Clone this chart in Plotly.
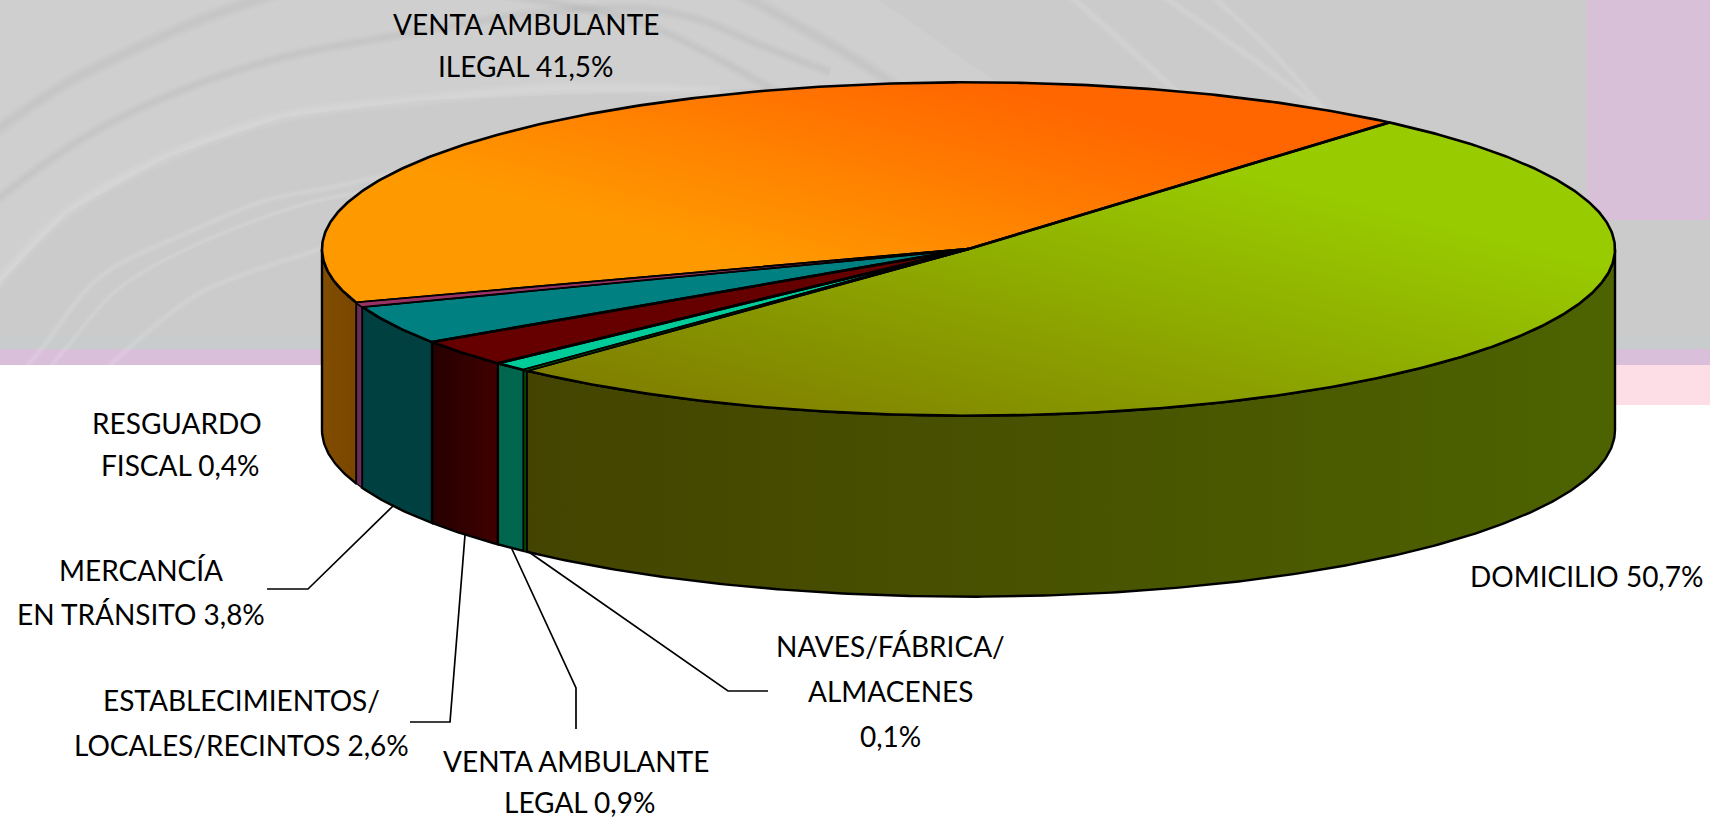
import numpy as np
import plotly.graph_objects as go

# ---- data -------------------------------------------------------------
slice_names = ["DOMICILIO", "NAVES/FÁBRICA/ALMACENES", "VENTA AMBULANTE LEGAL",
               "ESTABLECIMIENTOS/LOCALES/RECINTOS", "MERCANCÍA EN TRÁNSITO",
               "RESGUARDO FISCAL", "VENTA AMBULANTE ILEGAL"]
slice_values = [50.7, 0.1, 0.9, 2.6, 3.8, 0.4, 41.5]
top_colors = ["#99cc00", "#009000", "#00cc99", "#660000", "#008080", "#993366", "#ff9900"]
side_colors = [["#444400", "#4d6300"], ["#004d00", "#004d00"], ["#00664d", "#00664d"],
               ["#260000", "#400000"], ["#004040", "#004040"], ["#6b2a58", "#6b2a58"],
               ["#804d00", "#7a4600"]]
label_lines = [
    ("VENTA AMBULANTE", 526, 24), ("ILEGAL 41,5%", 525, 66),
    ("RESGUARDO", 177, 423), ("FISCAL 0,4%", 180, 465),
    ("MERCANCÍA", 141, 570), ("EN TRÁNSITO 3,8%", 141, 614),
    ("ESTABLECIMIENTOS/", 241, 700), ("LOCALES/RECINTOS 2,6%", 241, 745),
    ("VENTA AMBULANTE", 576, 761), ("LEGAL 0,9%", 579, 802),
    ("NAVES/FÁBRICA/", 890, 646), ("ALMACENES", 890, 691), ("0,1%", 890, 736),
    ("DOMICILIO 50,7%", 1586, 576),
]
leaders = [
    [(394, 505), (308, 589), (267, 589)],
    [(465, 535), (450, 722), (410, 722)],
    [(511, 547), (576, 688), (576, 729)],
    [(526, 550), (728, 691), (768, 691)],
]

# ---- pie geometry -------------------------------------------------------
CX, CY, A, B, DEPTH = 968.5, 249.0, 646.5, 166.7, 181.0
START_DEG = 49.4
TINY = 0.5

def ell(t_deg, dy=0.0):
    t = np.radians(t_deg)
    return np.column_stack([CX + A * np.cos(t), CY - B * np.sin(t) + dy])

def arc(t0, t1, dy=0.0):
    n = max(2, int(abs(t1 - t0) * 2) + 2)
    return ell(np.linspace(t0, t1, n), dy)

def clip_half(poly, wx, wy, s0):
    """Keep the part of poly where wx*X + wy*Y >= s0 (pie-plane coordinates)."""
    s = wx * (poly[:, 0] - CX) / A + wy * (CY - poly[:, 1]) / B - s0
    out = []
    for i in range(len(poly)):
        j = (i + 1) % len(poly)
        if s[i] >= 0:
            out.append(poly[i])
        if (s[i] >= 0) != (s[j] >= 0):
            out.append(poly[i] + (poly[j] - poly[i]) * s[i] / (s[i] - s[j]))
    return np.array(out) if out else None

def lerp_colors(c0, c1, n):
    return [tuple(int(round(a + (b - a) * k / (n - 1))) for a, b in zip(c0, c1)) for k in range(n)]

fig = go.Figure()

def add_poly(xy, fill=None, line_w=0.0, name=None, grad=None, lcolor="#000000"):
    kw = {}
    if grad is not None:
        kw["fillgradient"] = dict(type="horizontal", colorscale=[[0, grad[0]], [1, grad[1]]])
    elif fill is not None:
        kw["fillcolor"] = fill
    fig.add_trace(go.Scatter(x=xy[:, 0], y=xy[:, 1], mode="lines", fill="toself",
                             line=dict(color=lcolor, width=line_w), hoverinfo="skip",
                             name=name, showlegend=False, **kw))

def add_line(xy, w, color="#000000", spline=False):
    fig.add_trace(go.Scatter(x=xy[:, 0], y=xy[:, 1], mode="lines",
                             line=dict(color=color, width=w, shape="spline" if spline else "linear"),
                             hoverinfo="skip", showlegend=False))

# ---- background texture (decorative swirl) ------------------------------
W, H = 1710, 821
light_region = np.array([(0, 0), (879, 0), (996, 82), (700, 90), (420, 100), (283, 117),
                         (167, 157), (67, 213), (0, 283), (0, 0)], dtype=float)
add_poly(light_region, fill="rgba(255,255,255,0.09)")
DARK, LIGHT = "0,0,0", "255,255,255"
swirl = [
    (DARK, 10, [(-10, 135), (67, 83), (133, 50), (200, 20), (280, -8)]),
    (DARK, 8, [(-10, 205), (80, 140), (170, 95), (280, 58), (400, 35), (530, 14), (640, 8),
               (700, 20), (760, 45), (830, 72)]),
    (DARK, 8, [(500, -6), (600, 12), (653, 27), (733, 67), (790, 100)]),
    (DARK, 10, [(740, -6), (800, 27), (840, 50), (883, 77), (900, 90)]),
    (LIGHT, 9, [(-8, 290), (67, 213), (167, 157), (283, 117), (420, 100), (560, 88), (720, 92)]),
    (LIGHT, 5, [(28, 365), (43, 347), (100, 277), (187, 233), (267, 200), (333, 187), (430, 165)]),
    (LIGHT, 4, [(52, 365), (67, 347), (117, 290), (200, 243), (320, 200), (390, 190)]),
    (LIGHT, 5, [(110, 365), (130, 347), (200, 293), (317, 250), (345, 240)]),
    (LIGHT, 6, [(1068, -6), (1120, 40), (1167, 83), (1185, 100)]),
    (LIGHT, 6, [(1160, -6), (1240, 50), (1312, 103), (1340, 125)]),
    (LIGHT, 5, [(1210, -6), (1270, 50), (1325, 110), (1348, 132)]),
]
for rgb, w, pts in swirl:
    xy = np.array(pts, dtype=float)
    xy = xy[xy[:, 1] < 366]
    alpha = 0.012 if rgb == DARK else 0.055
    for factor in (1.5, 1.0, 0.5):
        add_line(xy, w * factor, "rgba(%s,%.3f)" % (rgb, alpha), spline=True)

# ---- sides, painted along the visible front arc; narrow slices go last ---
edges = START_DEG - np.concatenate([[0], np.cumsum(slice_values)]) * 3.6
order = sorted(range(len(slice_values)), key=lambda k: slice_values[k] < TINY)
for i in order:
    t0, t1 = edges[i], edges[i + 1]
    lo, hi = max(t1, -180.0), min(t0, 0.0)
    if hi <= lo:
        continue
    xy = np.vstack([arc(lo, hi), arc(hi, lo, DEPTH)])
    xy = np.vstack([xy, xy[:1]])
    c = side_colors[i]
    add_poly(xy, line_w=1.2 if slice_values[i] < TINY else 2.4, name=slice_names[i],
             grad=c if c[0] != c[1] else None, fill=c[0])

# ---- top face -----------------------------------------------------------
center = np.array([[CX, CY]])
grad_spec = {0: ((128, 128, 0), (153, 204, 0), -1.41, 0.9, 76),
             6: ((255, 153, 0), (255, 102, 0), -0.4, 1.0, 51)}
polys = []
for i, val in enumerate(slice_values):
    xy = np.vstack([center, arc(edges[i], edges[i + 1]), center])
    polys.append(xy)
    if i in grad_spec:
        c0, c1, s0, s1, n = grad_spec[i]
        cols = lerp_colors(c0, c1, n)
        add_poly(xy, fill="rgb(%d,%d,%d)" % cols[0], name=slice_names[i])
        for k in range(1, n):
            part = clip_half(xy, 1, 1, s0 + (s1 - s0) * k / (n - 1))
            if part is not None and len(part) > 2:
                add_poly(part, fill="rgb(%d,%d,%d)" % cols[k])
    else:
        add_poly(xy, fill=top_colors[i], name=slice_names[i])
for xy in polys:
    add_line(xy, 2.6)
# narrow slices are repainted with a finer outline so that their colour stays visible
for i, val in enumerate(slice_values):
    if val < TINY:
        add_poly(polys[i], fill=top_colors[i], line_w=1.0)

# ---- leader lines -------------------------------------------------------
for pts in leaders:
    add_line(np.array(pts, dtype=float), 1.7)

annotations = [dict(x=x, y=y, xref="x", yref="y", text=s, showarrow=False,
                    xanchor="center", yanchor="middle",
                    font=dict(family="Lato, Carlito, sans-serif", size=28, color="#000000"))
               for s, x, y in label_lines]

bg = [
    dict(x0=0, x1=W, y0=0, y1=336, fillcolor="#cbcbcb"),
    dict(x0=0, x1=W, y0=336, y1=349, fillcolor="#c8cccc"),
    dict(x0=1587, x1=W, y0=0, y1=220, fillcolor="#d8c0d8"),
    dict(x0=0, x1=W, y0=349, y1=365, fillcolor="#d9bfda"),
    dict(x0=1480, x1=W, y0=365, y1=405, fillcolor="#fddde6"),
]
shapes = [dict(type="rect", xref="x", yref="y", layer="below", line=dict(width=0), **s) for s in bg]

fig.update_layout(
    width=W, height=H, autosize=False, margin=dict(l=0, r=0, t=0, b=0),
    paper_bgcolor="#ffffff", plot_bgcolor="#ffffff", showlegend=False,
    xaxis=dict(range=[0, W], visible=False, fixedrange=True),
    yaxis=dict(range=[H, 0], visible=False, fixedrange=True),
    shapes=shapes, annotations=annotations,
)
fig.write_html("out.html", config={"displayModeBar": False},
               post_script="document.body.style.margin='0';document.body.style.overflow='hidden';")
